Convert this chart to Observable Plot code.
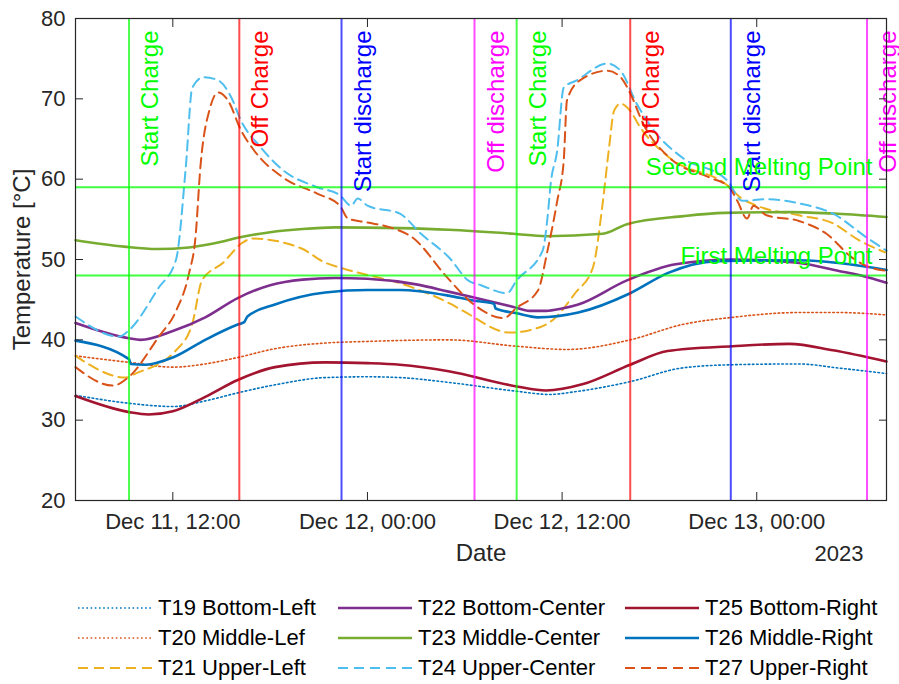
<!DOCTYPE html>
<html>
<head>
<meta charset="utf-8">
<script src="https://cdn.jsdelivr.net/npm/d3@7"></script>
<script src="https://cdn.jsdelivr.net/npm/@observablehq/plot@0.6"></script>
<style>
  body { margin: 0; background: #fff; font-family: "Liberation Sans", Arial, sans-serif; color: #262626; }
  #chart svg { display: block; }
  #legend {
    display: grid;
    grid-auto-flow: column;
    grid-template-rows: repeat(3, 30px);
    grid-template-columns: 260px 287px 270px;
    margin-left: 78px;
    padding-top: 23px;
    font-size: 22px;
    color: #000;
  }
  .item { display: flex; align-items: center; white-space: nowrap; }
  .item svg { margin-right: 6px; flex-shrink: 0; }
</style>
</head>
<body>
<div id="chart"></div>
<div id="legend"></div>
<script>
// Hours are measured from 2023-12-11 12:00 (UTC used for display)
const baseMs = Date.UTC(2023, 11, 11, 12, 0);
const xDomainHours = [-6, 44];
const xTickHours = [0, 12, 24, 36];
const yTicks = [20, 30, 40, 50, 60, 70, 80];
const yearLabel = "2023";

// [hour, °C]
const t19 = [[-6,33.1],[-2.7,32.1],[0,31.7],[2,32.4],[4,33.4],[6.3,34.4],[9.4,35.3],[12,35.4],[14,35.3],[17,34.7],[21.2,33.6],[23.2,33.2],[25,33.6],[28.2,34.8],[31.4,36.5],[34.5,36.9],[38.6,37.0],[41,36.5],[44,35.8]];
const t20 = [[-6,38.0],[-2.7,37.2],[0,36.6],[2,37.0],[4,37.8],[6.3,38.9],[9.4,39.6],[12,39.8],[17,40.0],[21.2,39.2],[24.3,38.8],[28.2,40.0],[31.4,41.9],[34.5,42.8],[38.6,43.4],[41,43.4],[44,43.1]];
const t21 = [[-6,38.0],[-2.9,35.3],[-2.3,35.8],[0.2,38.7],[1.2,42.0],[1.8,47.4],[3.1,49.6],[4.3,52.1],[4.9,52.6],[7.9,51.4],[9.4,49.6],[10.3,49.0],[14.8,46.5],[17.1,44.5],[17.9,43.6],[20.8,40.9],[22,41.2],[23.5,42.6],[24.8,45.8],[25.9,49.0],[26.5,57.0],[26.9,64.0],[27.2,68.5],[27.6,69.4],[28.2,68.5],[28.8,66.5],[30.6,62.7],[34.2,59.2],[35.0,57.7],[36.0,56.7],[38.6,55.5],[40.7,54.5],[42.3,52.4],[43.9,50.9]];
const t22 = [[-6,42.1],[-2.7,40.2],[-2,40.0],[0,41.1],[2,42.8],[4,45.2],[6,46.8],[8,47.5],[10,47.7],[12,47.6],[15,46.9],[17,46.0],[18.5,45.3],[21,44.1],[22,43.6],[23,43.6],[24,43.9],[25,44.4],[28,47.4],[31,49.4],[34.5,50.0],[38.5,49.6],[41,48.6],[43,47.7],[44,47.1]];
const t23 = [[-6,52.4],[-3,51.6],[-1,51.3],[1,51.5],[3,52.2],[4,52.7],[6,53.4],[8,53.8],[10,54.0],[14,53.9],[17,53.7],[21,53.2],[23,52.9],[26.5,53.2],[28,54.4],[31.5,55.4],[34,55.8],[38,55.9],[41,55.7],[44,55.3]];
const t24 = [[-6,42.9],[-3.3,40.4],[-2.7,41.2],[-0.9,46.4],[0.2,50.0],[0.8,61.5],[1.2,71.4],[1.9,72.7],[2.8,72.3],[3.6,70.2],[4.2,67.3],[5.4,64.0],[6.8,61.1],[8.9,59.0],[10.3,58.0],[11.0,56.7],[11.4,57.6],[12,56.7],[14,55.7],[15.3,53.2],[17.1,50.1],[18.2,47.4],[19,46.8],[20.6,45.8],[21.2,47.4],[22.8,51.1],[23.1,55.2],[23.3,59.5],[23.7,63.6],[24.1,71.4],[24.9,72.3],[26.8,74.4],[27.6,73.5],[28.6,69.4],[29.8,65.7],[31.4,62.7],[34.2,59.8],[35.1,57.3],[36.6,57.5],[38.8,56.9],[40.7,55.7],[42.8,52.7],[44,51.1]];
const t25 = [[-6,33.0],[-2.7,31.0],[-1.5,30.7],[0,31.1],[2,32.9],[4,35.0],[6.3,36.6],[9.4,37.2],[12,37.1],[14,36.9],[17,36.1],[21.2,34.2],[23,33.7],[25.3,34.5],[28.2,36.9],[30.5,38.6],[34.5,39.2],[38,39.5],[40.7,38.7],[44,37.3]];
const t26 = [[-6,39.9],[-2.7,37.6],[-2.6,37.0],[-1.7,36.9],[0,37.8],[2,40.0],[4,41.9],[4.4,42.2],[4.6,42.9],[6.3,44.4],[9.4,45.9],[12,46.2],[14,46.2],[17,45.5],[18.5,44.9],[19.8,44.5],[19.9,43.9],[21.2,43.3],[22.5,42.8],[25,43.4],[28.2,45.8],[30.5,48.3],[33.5,49.8],[38.5,49.9],[41.7,49.4],[44,48.7]];
const t27 = [[-6,36.6],[-3.7,34.3],[-2.7,35.4],[-0.9,40.3],[0.2,43.6],[1.0,48.3],[1.4,52.8],[1.7,61.5],[2.3,68.9],[2.8,70.8],[3.4,69.8],[4.2,66.1],[5.0,63.6],[6.8,60.2],[8.9,58.2],[10.3,56.7],[10.8,55.1],[12,54.6],[13.4,54.0],[14.8,52.7],[16.9,47.8],[18.5,44.5],[20.4,42.7],[21.2,44.0],[22.5,46.1],[23.1,51.1],[23.7,57.3],[24.1,62.3],[24.3,69.8],[25.1,72.3],[26.8,73.5],[27.6,72.7],[28.2,70.7],[29.0,66.9],[30.6,62.7],[33.1,60.2],[34.3,59.0],[34.8,57.3],[35.4,55.1],[35.8,56.7],[36.6,55.5],[38.6,54.8],[40.3,53.2],[41.9,50.2],[43.0,49.0],[44,48.6]];

const seriesNames = ["T19 Bottom-Left","T20 Middle-Lef","T21 Upper-Left","T22 Bottom-Center","T23 Middle-Center","T24 Upper-Center","T25 Bottom-Right","T26 Middle-Right","T27 Upper-Right"];
const seriesData = [t19, t20, t21, t22, t23, t24, t25, t26, t27];

// Event lines
const eventHours = [-2.7, 4.1, 10.4, 18.6, 21.2, 28.2, 34.4, 42.8];
const eventLabels = ["Start Charge","Off Charge","Start discharge","Off discharge","Start Charge","Off Charge","Start discharge","Off discharge"];
// Melting points
const meltValues = [59, 48];
const meltLabels = ["Second Melting Point", "First Melting Point"];

// ---------- styles (not data) ----------
const seriesColor = ["#0072BD","#D95319","#EDB120","#7E2F8E","#77AC30","#4DBEEE","#A2142F","#0072BD","#D95319"];
const seriesKind = ["dot","dot","dash","solid","solid","dash","solid","solid","dash"];
const kindStyle = {
  dot: {strokeWidth: 1.6, strokeDasharray: "1.6,2.6"},
  dash: {strokeWidth: 2, strokeDasharray: "10,6"},
  solid: {strokeWidth: 2.6, strokeDasharray: null}
};
const eventColor = {"Start Charge": "#00ff00", "Off Charge": "#ff0000", "Start discharge": "#0000ff", "Off discharge": "#ff00ff"};

const toDate = h => new Date(baseMs + h * 3600000);

const rows = seriesData.flatMap((arr, i) => arr.map(([h, v]) => ({series: seriesNames[i], idx: i, t: toDate(h), v})));
const events = eventHours.map((h, i) => ({t: toDate(h), label: eventLabels[i], color: eventColor[eventLabels[i]]}));
const melts = meltValues.map((v, i) => ({v, label: meltLabels[i]}));

const lineMarks = seriesNames.map((name, i) => {
  const st = kindStyle[seriesKind[i]];
  return Plot.line(rows.filter(d => d.idx === i), {
    x: "t", y: "v", stroke: seriesColor[i], strokeWidth: st.strokeWidth,
    strokeDasharray: st.strokeDasharray, curve: "monotone-x"
  });
});

const fmt = d3.utcFormat("%b %d, %H:%M");
const axisColor = "#262626";

const chart = Plot.plot({
  width: 899,
  height: 570,
  marginTop: 18,
  marginLeft: 75,
  marginRight: 13,
  marginBottom: 70,
  style: {fontFamily: "Liberation Sans, Arial, sans-serif", fontSize: "22px", color: axisColor, background: "#fff"},
  x: {type: "utc", domain: xDomainHours.map(toDate), label: null},
  y: {domain: [20, 80], label: null},
  marks: [
    ...lineMarks,
    Plot.ruleY(melts, {y: "v", stroke: "#00ff00", strokeOpacity: 0.75, strokeWidth: 2}),
    Plot.ruleX(events, {x: "t", stroke: d => d.color, strokeOpacity: 0.7, strokeWidth: 2}),
    Plot.text(events, {x: "t", text: "label", fill: d => d.color, frameAnchor: "top", rotate: -90,
      textAnchor: "end", lineAnchor: "top", dx: 12, dy: 12, fontSize: 24}),
    Plot.text(melts, {y: "v", text: "label", fill: "#00ff00", frameAnchor: "right", textAnchor: "end",
      lineAnchor: "bottom", dx: -14, dy: -12, fontSize: 24}),
    Plot.frame({stroke: axisColor, strokeWidth: 1.2}),
    Plot.axisX(xTickHours.map(toDate), {anchor: "bottom", tickSize: -8, tickPadding: 21, tickFormat: fmt, label: null, stroke: axisColor, fill: axisColor, fontSize: 22}),
    Plot.axisX(xTickHours.map(toDate), {anchor: "top", tickSize: -8, tickFormat: () => "", label: null, stroke: axisColor}),
    Plot.axisY(yTicks, {anchor: "left", tickSize: -8, tickPadding: 18, label: null, stroke: axisColor, fill: axisColor, fontSize: 22}),
    Plot.axisY(yTicks, {anchor: "right", tickSize: -8, tickFormat: () => "", label: null, stroke: axisColor}),
    Plot.text(["Date"], {frameAnchor: "bottom", dy: 53, lineAnchor: "middle", fill: axisColor, fontSize: 24}),
    Plot.text([yearLabel], {frameAnchor: "bottom-right", dx: -23, dy: 53, textAnchor: "end", lineAnchor: "middle", fill: axisColor, fontSize: 22}),
    Plot.text(["Temperature [°C]"], {frameAnchor: "left", dx: -53, rotate: -90, lineAnchor: "middle", textAnchor: "middle", fill: axisColor, fontSize: 24})
  ]
});
document.getElementById("chart").appendChild(chart);

// Legend (column-major, 3 x 3)
const legend = document.getElementById("legend");
seriesNames.forEach((name, i) => {
  const st = kindStyle[seriesKind[i]];
  const item = document.createElement("div");
  item.className = "item";
  const dash = st.strokeDasharray ? `stroke-dasharray="${st.strokeDasharray}"` : "";
  item.innerHTML = `<svg width="74" height="10"><line x1="0" y1="5" x2="74" y2="5" stroke="${seriesColor[i]}" stroke-width="${st.strokeWidth}" ${dash}/></svg><span>${name}</span>`;
  legend.appendChild(item);
});
</script>
</body>
</html>
